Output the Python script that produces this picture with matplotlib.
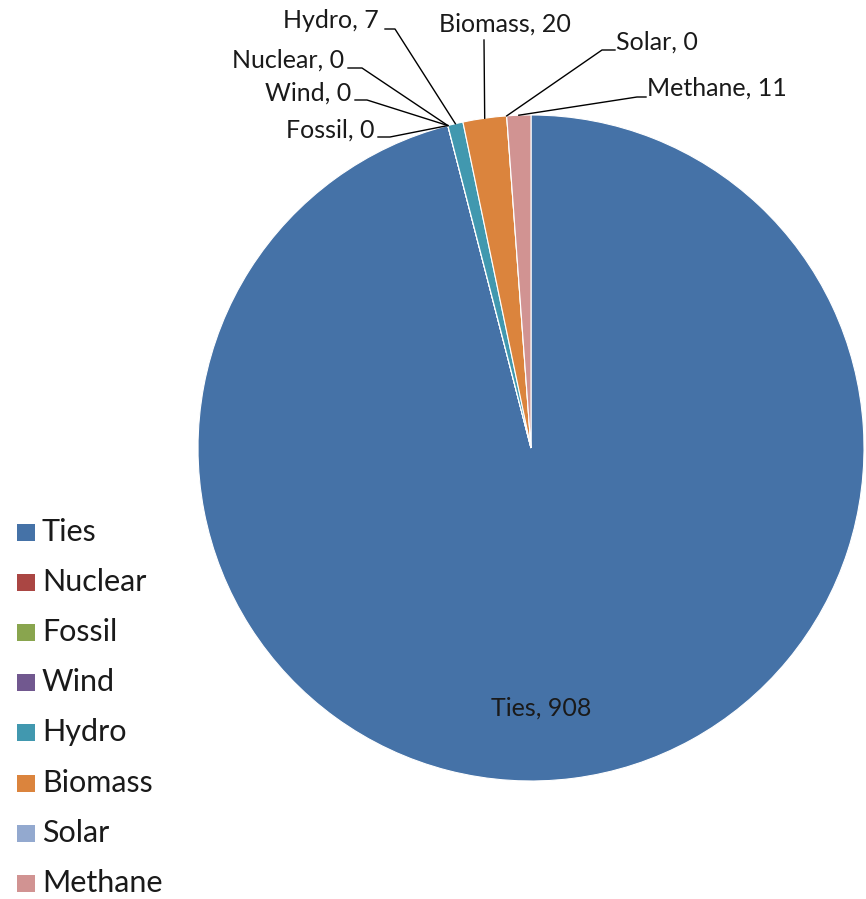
import numpy as np
import matplotlib
matplotlib.use("Agg")
import matplotlib.pyplot as plt
from matplotlib.patches import Rectangle

categories = ["Ties", "Nuclear", "Fossil", "Wind", "Hydro", "Biomass", "Solar", "Methane"]
values = [908, 0, 0, 0, 7, 20, 0, 11]
colors = ["#4572A7", "#AA4643", "#89A54E", "#71588F", "#4198AF", "#DB843D", "#93A9CF", "#D19392"]

plt.rcParams['font.family'] = ['Lato', 'DejaVu Sans']

W, H = 866, 899
fig = plt.figure(figsize=(W / 100, H / 100), dpi=100)
cx, cy, R = 531, 448, 333
ax = fig.add_axes([(cx - R) / W, (H - cy - R) / H, 2 * R / W, 2 * R / H])

wedges, _ = ax.pie(values, colors=colors, startangle=90, counterclock=False,
                   wedgeprops=dict(edgecolor="white", linewidth=0.8))
ax.set_xlim(-1, 1)
ax.set_ylim(-1, 1)
ax.set_aspect("equal")
ax.axis("off")

def px2d(px, py):
    return ((px - cx) / R, (cy - py) / R)

# label layout: (elbow start px, elbow end px, text anchor px, ha)
layout = {
    "Hydro":   ((385, 29), (395, 29), (379, 21), "right"),
    "Nuclear": ((348, 68), (362, 68), (344, 60), "right"),
    "Wind":    ((355, 100), (367, 100), (351, 93), "right"),
    "Fossil":  ((378, 137), (390, 137), (374, 130), "right"),
    "Biomass": ((484, 40), (484, 40), (505, 24), "center"),
    "Solar":   ((615, 50), (602, 50), (616, 42), "left"),
    "Methane": ((646, 97), (637, 97), (647, 88), "left"),
}

fs = 18
for w, name, v in zip(wedges, categories, values):
    if name == "Ties":
        ax.text(*px2d(541, 708), f"{name}, {v}", ha="center", va="center",
                fontsize=fs, color="#1a1a1a")
        continue
    ang = np.deg2rad((w.theta1 + w.theta2) / 2)
    p = (np.cos(ang), np.sin(ang))
    a, b, t, ha = layout[name]
    a, b, t = px2d(*a), px2d(*b), px2d(*t)
    ax.plot([p[0], b[0], a[0]], [p[1], b[1], a[1]], color="black", lw=1.0, clip_on=False)
    ax.text(t[0], t[1], f"{name}, {v}", ha=ha, va="center", fontsize=fs,
            color="#1a1a1a", clip_on=False)

# legend
y0, dy = 532, 50.1
for i, (name, c) in enumerate(zip(categories, colors)):
    y = y0 + i * dy
    fig.add_artist(Rectangle((17 / W, 1 - (y + 9) / H), 18 / W, 17 / H,
                             transform=fig.transFigure, facecolor=c, edgecolor="none"))
    fig.text(42 / W, 1 - y / H, name, ha="left", va="center", fontsize=22, color="#1a1a1a")

fig.savefig("out.png", dpi=100)
